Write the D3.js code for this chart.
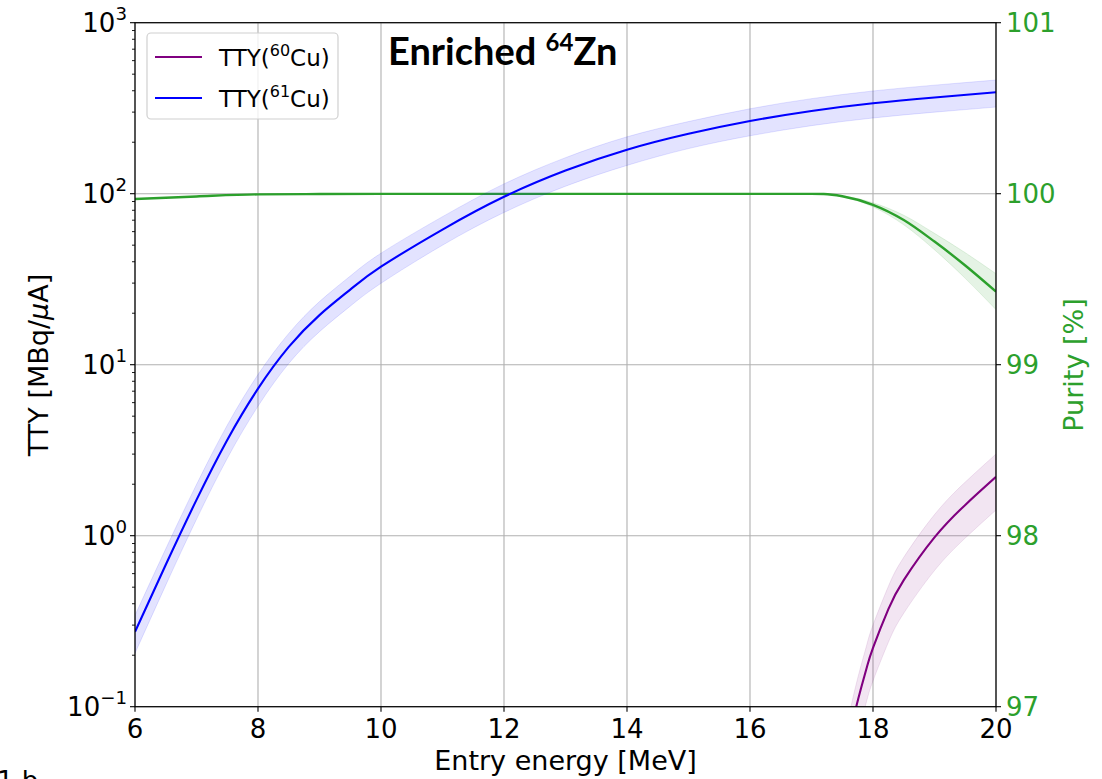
<!DOCTYPE html>
<html>
<head>
<meta charset="utf-8">
<script src="https://cdn.jsdelivr.net/npm/d3@7"></script>
<style>
  html, body { margin: 0; padding: 0; background: #fff; }
  svg { display: block; font-family: "DejaVu Sans", sans-serif; }
</style>
</head>
<body>
<svg id="chart" width="1102" height="779"></svg>
<script>
// Thick-target yield of 61Cu (MBq/uA) versus entry energy (MeV)
const energy61 = [6, 6.5, 7, 7.5, 8, 8.5, 9, 9.5, 10, 11, 12, 13, 14, 15, 16, 17, 18, 19, 20];
const tty61 = [0.274, 0.676, 1.62, 3.63, 7.24, 12.7, 19.5, 27.5, 37.4, 61.7, 95.9, 136.5, 180.7, 223.9, 266, 304.8, 338, 365.6, 391.7];
const tty61RelErr = [0.25, 0.24, 0.23, 0.22, 0.21, 0.2, 0.2, 0.2, 0.2, 0.19, 0.19, 0.19, 0.19, 0.18, 0.18, 0.18, 0.18, 0.18, 0.18];

// Thick-target yield of 60Cu (MBq/uA)
const energy60 = [17.6, 17.7, 17.8, 17.9, 18, 18.25, 18.5, 19, 19.5, 20];
const tty60 = [0.063, 0.091, 0.126, 0.17, 0.221, 0.372, 0.55, 0.977, 1.514, 2.208];
const tty60RelErr = [0.36, 0.36, 0.36, 0.36, 0.36, 0.36, 0.36, 0.36, 0.36, 0.36];

// Radionuclidic purity of 61Cu (%)
const energyPurity = [6, 7, 8, 9, 10, 12, 14, 16, 17, 17.2, 17.5, 18, 18.5, 19, 19.5, 20];
const purity = [99.969, 99.984, 99.996, 99.998, 99.999, 99.999, 99.999, 99.999, 99.999, 99.998, 99.985, 99.935, 99.846, 99.72, 99.58, 99.427];
const purityErr = [0, 0, 0, 0, 0, 0, 0, 0, 0, 0, 0.003, 0.012, 0.028, 0.048, 0.075, 0.105];

// Axis ticks
const xTicks = [6, 8, 10, 12, 14, 16, 18, 20];
const yExponents = [-1, 0, 1, 2, 3];
const purityTicks = [97, 98, 99, 100, 101];

const svg = d3.select("#chart");
const m = { left: 135, right: 996, top: 22.7, bottom: 706.7 };

const x = d3.scaleLinear().domain([6, 20]).range([m.left, m.right]);
const y = d3.scaleLog().domain([0.1, 1000]).range([m.bottom, m.top]);
const yR = d3.scaleLinear().domain([97, 101]).range([m.bottom, m.top]);

const BLUE = "#0000ff", PURPLE = "#800080", GREEN = "#2ca02c";
const FONT_TICK = 26, FONT_LABEL = 27;

svg.append("defs").append("clipPath").attr("id", "plotClip")
  .append("rect")
  .attr("x", m.left).attr("y", m.top)
  .attr("width", m.right - m.left).attr("height", m.bottom - m.top);

// Grid
const grid = svg.append("g").attr("stroke", "#b0b0b0").attr("stroke-width", 1.1);
xTicks.forEach(t => grid.append("line")
  .attr("x1", x(t)).attr("x2", x(t)).attr("y1", m.top).attr("y2", m.bottom));
yExponents.forEach(e => grid.append("line")
  .attr("x1", m.left).attr("x2", m.right).attr("y1", y(Math.pow(10, e))).attr("y2", y(Math.pow(10, e))));

const plot = svg.append("g").attr("clip-path", "url(#plotClip)");

function drawSeries(xs, vals, lo, hi, xScale, yScale, color, bandOpacity, curve, width) {
  const pts = xs.map((e, i) => ({ e, v: vals[i], lo: lo[i], hi: hi[i] }));
  const area = d3.area()
    .x(d => xScale(d.e))
    .y0(d => yScale(d.lo))
    .y1(d => yScale(d.hi))
    .curve(curve);
  plot.append("path").datum(pts)
    .attr("d", area)
    .attr("fill", color).attr("fill-opacity", bandOpacity)
    .attr("stroke", color).attr("stroke-opacity", bandOpacity).attr("stroke-width", 1);
  const line = d3.line().x(d => xScale(d.e)).y(d => yScale(d.v)).curve(curve);
  plot.append("path").datum(pts)
    .attr("d", line)
    .attr("fill", "none").attr("stroke", color).attr("stroke-width", width);
}

// Purity (right axis) drawn first
drawSeries(energyPurity, purity,
  purity.map((p, i) => p - purityErr[i]), purity.map((p, i) => p + purityErr[i]),
  x, yR, GREEN, 0.12, d3.curveMonotoneX, 2.4);
// 60Cu yield
drawSeries(energy60, tty60,
  tty60.map((v, i) => v * (1 - tty60RelErr[i])), tty60.map((v, i) => v * (1 + tty60RelErr[i])),
  x, y, PURPLE, 0.1, d3.curveNatural, 2.1);
// 61Cu yield
drawSeries(energy61, tty61,
  tty61.map((v, i) => v * (1 - tty61RelErr[i])), tty61.map((v, i) => v * (1 + tty61RelErr[i])),
  x, y, BLUE, 0.11, d3.curveNatural, 2.1);

// Frame
svg.append("rect")
  .attr("x", m.left).attr("y", m.top)
  .attr("width", m.right - m.left).attr("height", m.bottom - m.top)
  .attr("fill", "none").attr("stroke", "#000").attr("stroke-width", 1.2);

// Bottom axis
const gx = svg.append("g");
xTicks.forEach(t => {
  gx.append("line").attr("x1", x(t)).attr("x2", x(t))
    .attr("y1", m.bottom).attr("y2", m.bottom + 5).attr("stroke", "#000").attr("stroke-width", 1.1);
  gx.append("text").attr("x", x(t)).attr("y", m.bottom + 31)
    .attr("text-anchor", "middle").attr("font-size", FONT_TICK).attr("fill", "#000").text(t);
});

// Left log axis: major and minor ticks
const gy = svg.append("g");
yExponents.forEach(e => {
  const v = Math.pow(10, e);
  gy.append("line").attr("x1", m.left - 5).attr("x2", m.left)
    .attr("y1", y(v)).attr("y2", y(v)).attr("stroke", "#000").attr("stroke-width", 1.1);
  const txt = gy.append("text").attr("x", m.left - 8).attr("y", y(v) + 9)
    .attr("text-anchor", "end").attr("font-size", FONT_TICK).attr("fill", "#000");
  txt.append("tspan").text("10");
  txt.append("tspan").attr("font-size", FONT_TICK * 0.7).attr("dy", -12)
    .text(e < 0 ? "\u2212" + Math.abs(e) : String(e));
  if (e < 3) {
    for (let k = 2; k <= 9; k++) {
      const mv = k * v;
      gy.append("line").attr("x1", m.left - 3).attr("x2", m.left)
        .attr("y1", y(mv)).attr("y2", y(mv)).attr("stroke", "#000").attr("stroke-width", 0.9);
    }
  }
});

// Right purity axis
const gr = svg.append("g");
purityTicks.forEach(t => {
  gr.append("line").attr("x1", m.right).attr("x2", m.right + 5)
    .attr("y1", yR(t)).attr("y2", yR(t)).attr("stroke", "#000").attr("stroke-width", 1.1);
  gr.append("text").attr("x", m.right + 10).attr("y", yR(t) + 9.5)
    .attr("font-size", FONT_TICK).attr("fill", GREEN).text(t);
});

// Axis titles
svg.append("text").attr("x", (m.left + m.right) / 2).attr("y", 770)
  .attr("text-anchor", "middle").attr("font-size", FONT_LABEL).attr("fill", "#000")
  .text("Entry energy [MeV]");

const yl = svg.append("text")
  .attr("transform", "translate(48,365) rotate(-90)")
  .attr("text-anchor", "middle").attr("font-size", FONT_LABEL).attr("fill", "#000");
yl.append("tspan").text("TTY [MBq/");
yl.append("tspan").attr("font-style", "italic").text("\u03bc");
yl.append("tspan").text("A]");

svg.append("text")
  .attr("transform", "translate(1083,365) rotate(-90)")
  .attr("text-anchor", "middle").attr("font-size", FONT_LABEL).attr("fill", GREEN)
  .text("Purity [%]");

// Title inside the axes
const title = svg.append("text").attr("x", 388).attr("y", 65)
  .attr("font-family", "Lato, 'Open Sans', sans-serif").attr("font-weight", "bold")
  .attr("font-size", 38).attr("fill", "#000");
title.append("tspan").text("Enriched ");
title.append("tspan").attr("font-size", 24).attr("dy", -14).text("64");
title.append("tspan").attr("dy", 14).text("Zn");

// Legend
const legendItems = [
  { iso: "60", color: PURPLE },
  { iso: "61", color: BLUE }
];
const lg = svg.append("g");
lg.append("rect").attr("x", 147).attr("y", 33).attr("width", 191).attr("height", 86)
  .attr("rx", 4).attr("fill", "#fff").attr("fill-opacity", 0.8)
  .attr("stroke", "#d0d0d0").attr("stroke-width", 1.2);
legendItems.forEach((d, i) => {
  const cy = 57 + i * 41;
  lg.append("line").attr("x1", 155).attr("x2", 202).attr("y1", cy).attr("y2", cy)
    .attr("stroke", d.color).attr("stroke-width", 2.1);
  const t = lg.append("text").attr("x", 219).attr("y", cy + 9)
    .attr("font-size", 23).attr("fill", "#000");
  t.append("tspan").text("TTY(");
  t.append("tspan").attr("font-size", 16).attr("dy", -10).text(d.iso);
  t.append("tspan").attr("dy", 10).text("Cu)");
});

// Panel tag partially below the figure edge
svg.append("text").attr("x", -3).attr("y", 790).attr("font-size", 26).attr("fill", "#000").text("1 b");
</script>
</body>
</html>
